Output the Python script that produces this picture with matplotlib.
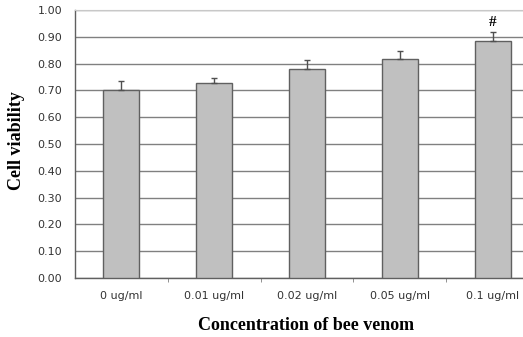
import matplotlib.pyplot as plt
import numpy as np

categories = ['0 ug/ml', '0.01 ug/ml', '0.02 ug/ml', '0.05 ug/ml', '0.1 ug/ml']
viability = [0.703, 0.728, 0.780, 0.818, 0.884]
err_upper = [0.032, 0.019, 0.032, 0.030, 0.035]
marks = ['', '', '', '', '#']

fig = plt.figure(figsize=(5.23, 3.37), dpi=100)
# plot area runs past the right edge of the picture, as in the original
ax = fig.add_axes([0.1425, 0.175, 0.889, 0.795])

x = np.arange(len(categories))
ax.bar(x, viability, width=0.39, color='#c0c0c0', edgecolor='#606060',
       linewidth=1.0, zorder=3)
ax.errorbar(x, viability, yerr=[np.zeros(len(x)), err_upper], fmt='none',
            ecolor='#505050', elinewidth=1.0, capsize=2, capthick=1.0, zorder=4)
for xi, v, e, m in zip(x, viability, err_upper, marks):
    if m:
        ax.text(xi, v + e + 0.012, m, ha='center', va='bottom',
                fontsize=11, fontweight='bold', family='Liberation Serif')

ax.set_xlim(-0.5, len(categories) - 0.5)
ax.set_ylim(0, 1.0)
ax.set_yticks(np.arange(0, 1.01, 0.1))
ax.set_yticklabels([f'{v:.2f}' for v in np.arange(0, 1.01, 0.1)])
ax.yaxis.grid(True, color='#808080', linewidth=1.0, zorder=0)
ax.set_axisbelow(True)

ax.set_xticks(x)
ax.set_xticklabels(categories)
ax.set_xticks(np.arange(0.5, len(categories) - 0.5, 1), minor=True)
ax.tick_params(axis='x', which='major', length=0, pad=9, labelsize=8,
               labelcolor='#333333')
ax.tick_params(axis='x', which='minor', length=3, color='#808080')
ax.tick_params(axis='y', length=0, pad=9, labelsize=8, labelcolor='#333333')

for s in ['left', 'bottom']:
    ax.spines[s].set_color('#606060')
    ax.spines[s].set_linewidth(1.0)
ax.spines['top'].set_color('#c8c8c8')
ax.spines['right'].set_visible(False)

fig.text(17 / 523, 1 - 141 / 337, 'Cell viability', rotation=90,
         ha='center', va='center', family='Liberation Serif',
         fontweight='bold', fontsize=13)
fig.text(306 / 523, 1 - 325 / 337, 'Concentration of bee venom',
         ha='center', va='center', family='Liberation Serif',
         fontweight='bold', fontsize=13)

fig.savefig('out.png', dpi=100)
